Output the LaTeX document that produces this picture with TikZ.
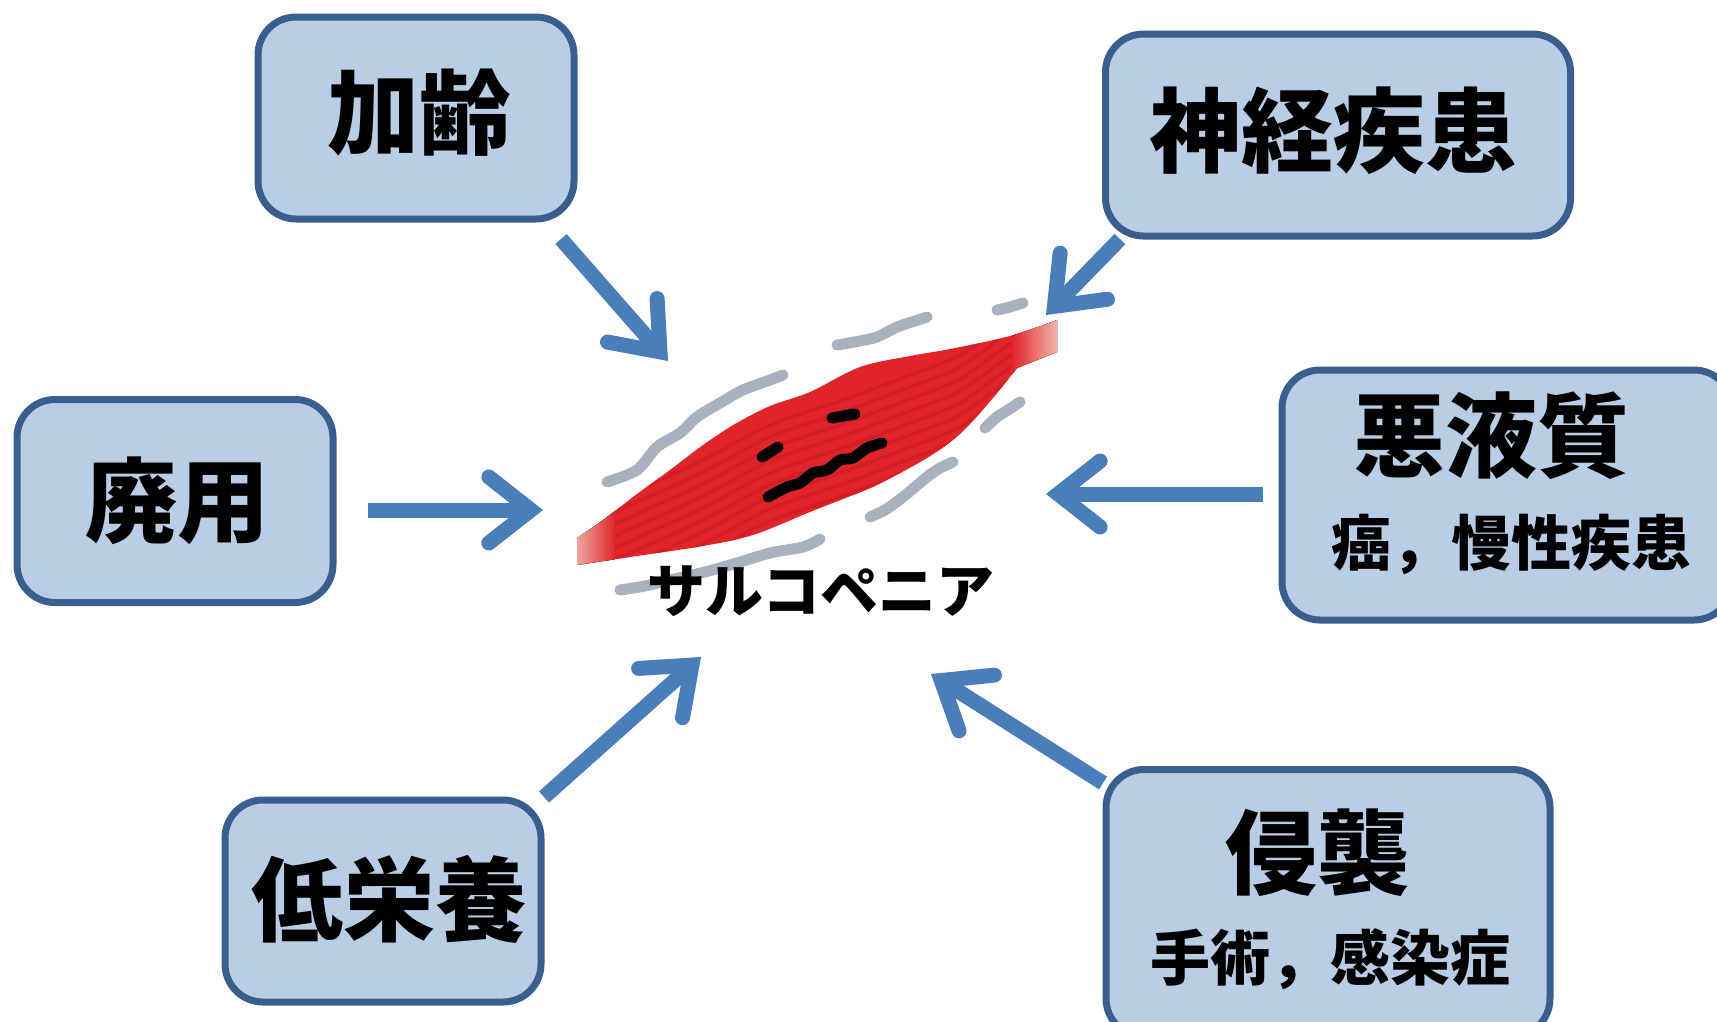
\documentclass[tikz,border=0pt]{standalone}
\usepackage{fontspec}
\newfontfamily\jp{Noto Sans CJK JP}
\usetikzlibrary{arrows.meta}
\definecolor{boxfill}{HTML}{B9CDE5}
\definecolor{boxline}{HTML}{3A5F8E}
\definecolor{arrowblue}{HTML}{4A7EBB}
\definecolor{muscle}{HTML}{E0242A}
\definecolor{muscledark}{HTML}{B8141A}
\definecolor{tendon}{HTML}{F2BDB5}
\definecolor{wave}{HTML}{A9B1BF}

\begin{document}
\begin{tikzpicture}[x=1pt,y=-1pt,
  causebox/.style={draw=boxline,line width=7pt,fill=boxfill,rounded corners=38pt,inner sep=0pt},
  title/.style={font=\jp\bfseries\fontsize{92}{100}\selectfont,inner sep=0pt},
  subtitle/.style={font=\jp\bfseries\fontsize{60}{66}\selectfont,inner sep=0pt},
  label/.style={font=\jp\bfseries\fontsize{58}{64}\selectfont,inner sep=0pt},
  cause/.style={draw=arrowblue,line width=15pt,
    -{Straight Barb[length=42pt,width=66pt,line cap=round,line join=miter]}},
  waveline/.style={draw=wave,line width=11pt,line cap=round,line join=round},
  face/.style={draw=black,line width=11pt,line cap=round,line join=round}]

\clip (0,0) rectangle (1717,1021);
\fill[white] (0,0) rectangle (1717,1021);

% cause boxes
\node[causebox,minimum width=316pt,minimum height=202pt] (boxAge) at (416,118) {};
\node[causebox,minimum width=465pt,minimum height=202pt] (boxNeuro) at (1338,135) {};
\node[causebox,minimum width=316pt,minimum height=203pt] (boxDisuse) at (175,501) {};
\node[causebox,minimum width=450pt,minimum height=250pt] (boxCachexia) at (1507,495) {};
\node[causebox,minimum width=316pt,minimum height=202pt] (boxNutrition) at (383,901) {};
\node[causebox,minimum width=444pt,minimum height=267pt] (boxInvasion) at (1328,903) {};

\node[title] (tAge) at (419,113) {加齢};
\node[title] (tNeuro) at (1333,131) {神経疾患};
\node[title] (tDisuse) at (177,501) {廃用};
\node[title] (tCachexia) at (1491,436) {悪液質};
\node[subtitle] (sCachexia) at (1511,544) {癌，慢性疾患};
\node[title] (tNutrition) at (389,899) {低栄養};
\node[title] (tInvasion) at (1317,853) {侵襲};
\node[subtitle] (sInvasion) at (1330,959) {手術，感染症};

% motion lines around the muscle
\draw[waveline] plot[smooth] coordinates {(607,482) (637,470) (657,447) (680,433) (697,417) (720,403) (743,390) (770,380) (783,375)};
\draw[waveline] plot[smooth] coordinates {(837,345) (860,341) (877,337) (897,327) (915,321) (927,317)};
\draw[waveline] plot[smooth] coordinates {(997,310) (1010,307) (1023,303)};
\draw[waveline] plot[smooth] coordinates {(985,428) (997,417) (1008,410) (1020,402)};
\draw[waveline] plot[smooth] coordinates {(870,517) (885,510) (903,497) (927,477) (940,468) (953,462)};
\draw[waveline] plot[smooth] coordinates {(620,590) (645,586) (670,580) (705,572) (737,563) (770,553) (803,547) (820,539)};

% muscle body
\def\musclepath{plot[smooth,tension=0.55] coordinates {(577,538) (603,520) (637,494) (670,470) (703,445) (735,424) (770,406) (810,392) (860,367) (910,356) (950,349) (1010,336) (1057,320)} -- (1057,352) -- plot[smooth,tension=0.55] coordinates {(1017,368) (993,398) (960,434) (927,458) (877,485) (843,499) (810,512) (753,535) (703,546) (637,556) (577,565)} -- cycle}
\fill[muscle] \musclepath;
\begin{scope}
  \clip \musclepath;
  \foreach \d in {-40,-28,...,120}
    \draw[muscledark,line width=3.5pt,opacity=.35,shift={(0,\d)}]
      plot[smooth] coordinates {(560,565) (637,530) (703,500) (770,465) (843,440) (910,415) (960,395) (1010,360) (1070,330)};
  \fill[left color=tendon,right color=muscle] (570,500) rectangle (615,600);
  \fill[left color=muscle,right color=tendon] (1012,300) rectangle (1060,380);
\end{scope}

% face
\draw[face] (762,457) -- (778,447);
\draw[face] (832,418) -- (855,414);
\draw[face] plot[smooth,tension=0.5] coordinates {(768,497) (787,487) (800,483) (813,473) (827,470) (840,460) (853,458) (867,448) (882,443)};

\node[label] (sarco) at (821,591) {サルコペニア};

% arrow end points
\coordinate (aAge) at (561,239);   \coordinate (hAge) at (668,361);
\coordinate (aNeuro) at (1120,239); \coordinate (hNeuro) at (1046,315);
\coordinate (aDisuse) at (368,510); \coordinate (hDisuse) at (543,510);
\coordinate (aCachexia) at (1263,494); \coordinate (hCachexia) at (1046,494);
\coordinate (aNutrition) at (544,797); \coordinate (hNutrition) at (701,657);
\coordinate (aInvasion) at (1103,783); \coordinate (hInvasion) at (931,674);

\draw[cause] (aAge) -- (hAge);
\draw[cause] (aNeuro) -- (hNeuro);
\draw[cause] (aDisuse) -- (hDisuse);
\draw[cause] (aCachexia) -- (hCachexia);
\draw[cause] (aNutrition) -- (hNutrition);
\draw[cause] (aInvasion) -- (hInvasion);
\end{tikzpicture}
\end{document}
